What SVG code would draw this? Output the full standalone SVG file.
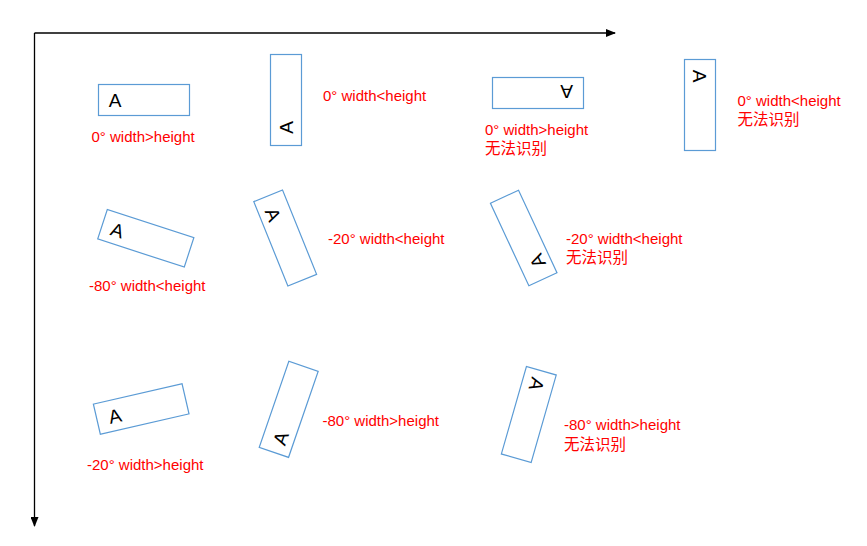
<svg xmlns="http://www.w3.org/2000/svg" width="867" height="546" viewBox="0 0 867 546">
<defs>
<style>
.box{fill:none;stroke:#5B9BD5;stroke-width:1.2}
.a{font-family:"Liberation Sans",Arial,sans-serif;font-size:19px;fill:#000;text-anchor:middle}
.lbl{font-family:"Liberation Sans","Noto Sans CJK SC",sans-serif;font-size:15px;fill:#FF0000}
.cjk{font-family:"Noto Sans CJK SC",sans-serif;font-size:15.5px;fill:#FF0000}
.axis{fill:none;stroke:#000;stroke-width:1.3}
</style>
<marker id="arr" viewBox="0 0 10 8" refX="9" refY="4" markerWidth="10" markerHeight="8" markerUnits="userSpaceOnUse" orient="auto">
<path d="M0,0 L10,4 L0,8 Z" fill="#000"/>
</marker>
</defs>
<rect width="867" height="546" fill="#fff"/>
<g id="connectors">
<path class="axis" d="M34.5,33 H615" marker-end="url(#arr)"/>
<path class="axis" d="M34.5,33 V526" marker-end="url(#arr)"/>
</g>
<g id="n1">
<rect class="box" x="98.5" y="84.5" width="91" height="31"/>
<text class="a" transform="translate(115,100)" y="6.8">A</text>
<text class="lbl" x="91.5" y="141.7">0° width&gt;height</text>
</g>
<g id="n2">
<rect class="box" x="270.5" y="54.5" width="31" height="91"/>
<text class="a" transform="translate(286,127.5) rotate(-90)" y="6.8">A</text>
<text class="lbl" x="323" y="100.7">0° width&lt;height</text>
</g>
<g id="n3">
<rect class="box" x="492.5" y="77.5" width="91" height="31"/>
<text class="a" transform="translate(566.7,91.5) rotate(180)" y="6.8">A</text>
<text class="lbl" x="485" y="134.5">0° width&gt;height</text>
<text class="cjk" x="485" y="154">无法识别</text>
</g>
<g id="n4">
<rect class="box" x="684.5" y="59.5" width="31" height="91"/>
<text class="a" transform="translate(699.5,76.2) rotate(90)" y="6.8">A</text>
<text class="lbl" x="737.5" y="106">0° width&lt;height</text>
<text class="cjk" x="737.5" y="125">无法识别</text>
</g>
<g id="n5">
<rect class="box" transform="translate(145.8,238.3) rotate(18)" x="-45.5" y="-15.5" width="91" height="31"/>
<text class="a" transform="translate(117.5,230.3) rotate(18)" y="6.8">A</text>
<text class="lbl" x="89" y="291">-80° width&lt;height</text>
</g>
<g id="n6">
<rect class="box" transform="translate(285.2,238) rotate(-22)" x="-15.5" y="-45.5" width="31" height="91"/>
<text class="a" transform="translate(273.3,214.5) rotate(68)" y="6.8">A</text>
<text class="lbl" x="328" y="244">-20° width&lt;height</text>
</g>
<g id="n7">
<rect class="box" transform="translate(523.7,238) rotate(-25)" x="-15.5" y="-45.5" width="31" height="91"/>
<text class="a" transform="translate(537.5,261) rotate(-115)" y="6.8">A</text>
<text class="lbl" x="566" y="244">-20° width&lt;height</text>
<text class="cjk" x="566" y="263">无法识别</text>
</g>
<g id="n8">
<rect class="box" transform="translate(141.2,409) rotate(-13)" x="-45.5" y="-15.5" width="91" height="31"/>
<text class="a" transform="translate(115,416) rotate(-13)" y="6.8">A</text>
<text class="lbl" x="87" y="470">-20° width&gt;height</text>
</g>
<g id="n9">
<rect class="box" transform="translate(288.7,409.3) rotate(19)" x="-15.5" y="-45.5" width="31" height="91"/>
<text class="a" transform="translate(280.5,438.3) rotate(-71)" y="6.8">A</text>
<text class="lbl" x="322.5" y="426">-80° width&gt;height</text>
</g>
<g id="n10">
<rect class="box" transform="translate(528.8,414.5) rotate(16)" x="-15.5" y="-45.5" width="31" height="91"/>
<text class="a" transform="translate(536.7,384.3) rotate(106)" y="6.8">A</text>
<text class="lbl" x="564" y="430">-80° width&gt;height</text>
<text class="cjk" x="564" y="450">无法识别</text>
</g>
</svg>
